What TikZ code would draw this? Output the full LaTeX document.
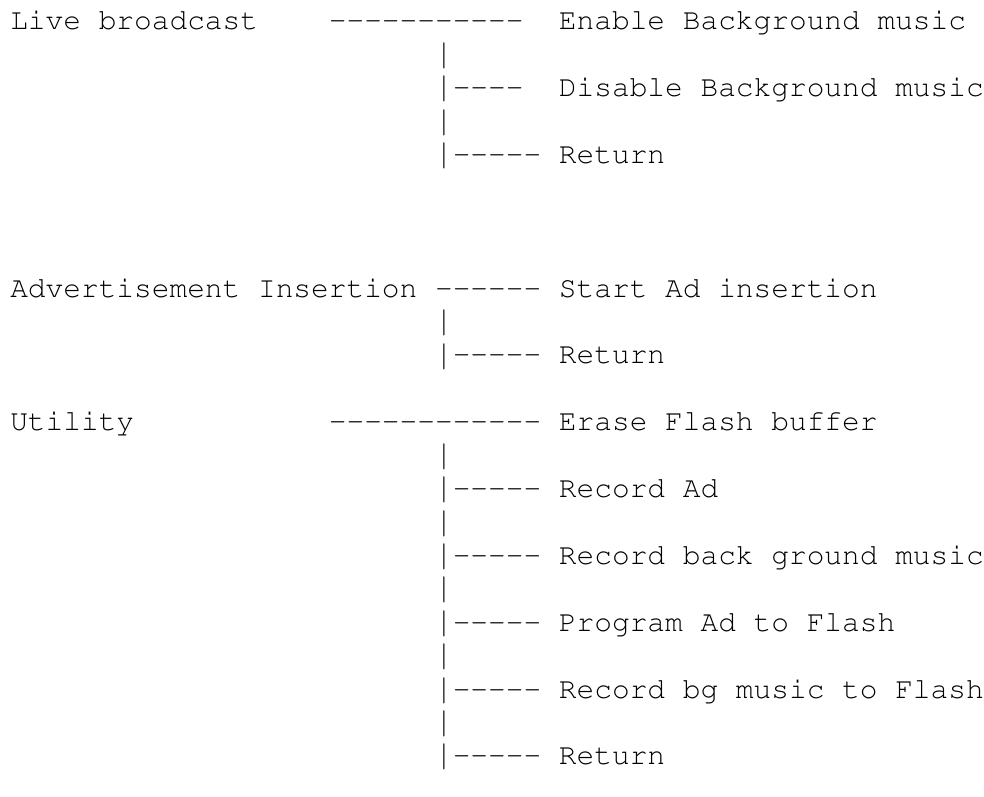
\documentclass[tikz,border=0pt]{standalone}
\usepackage[T1]{fontenc}
\usepackage{courier}
\usepackage{graphicx}
\newcommand{\vbar}{\raisebox{-0.04em}{\scalebox{1}[1.22]{|}}}

\begin{document}
\begin{tikzpicture}[x=13.275pt, y=-25.05pt,
  every node/.style = {anchor=base west, inner sep=0pt,
    font=\ttfamily\fontsize{22.125pt}{25pt}\selectfont}]
  \useasboundingbox (-0.565,-0.898) rectangle (55.028,22.964);
  % Live broadcast
  \node (live) at (0,0) {Live broadcast};
  \node (livedash) at (18,0) {-{}-{}-{}-{}-{}-{}-{}-{}-{}-{}-};
  \node (enablebg) at (31,0) {Enable Background music};
  \node (livebar1) at (24,1) {\vbar};
  \node (livebar2) at (24,2) {\vbar-{}-{}-{}-};
  \node (disablebg) at (31,2) {Disable Background music};
  \node (livebar3) at (24,3) {\vbar};
  \node (livebar4) at (24,4) {\vbar-{}-{}-{}-{}-};
  \node (livereturn) at (31,4) {Return};
  % Advertisement Insertion
  \node (advert) at (0,8) {Advertisement Insertion};
  \node (advertdash) at (24,8) {-{}-{}-{}-{}-{}-};
  \node (startad) at (31,8) {Start Ad insertion};
  \node (advertbar1) at (24,9) {\vbar};
  \node (advertbar2) at (24,10) {\vbar-{}-{}-{}-{}-};
  \node (advertreturn) at (31,10) {Return};
  % Utility
  \node (utility) at (0,12) {Utility};
  \node (utilitydash) at (18,12) {-{}-{}-{}-{}-{}-{}-{}-{}-{}-{}-{}-};
  \node (eraseflash) at (31,12) {Erase Flash buffer};
  \node (utilitybar1) at (24,13) {\vbar};
  \node (utilitybar2) at (24,14) {\vbar-{}-{}-{}-{}-};
  \node (recordad) at (31,14) {Record Ad};
  \node (utilitybar3) at (24,15) {\vbar};
  \node (utilitybar4) at (24,16) {\vbar-{}-{}-{}-{}-};
  \node (recordbg) at (31,16) {Record back ground music};
  \node (utilitybar5) at (24,17) {\vbar};
  \node (utilitybar6) at (24,18) {\vbar-{}-{}-{}-{}-};
  \node (programad) at (31,18) {Program Ad to Flash};
  \node (utilitybar7) at (24,19) {\vbar};
  \node (utilitybar8) at (24,20) {\vbar-{}-{}-{}-{}-};
  \node (programbg) at (31,20) {Record bg music to Flash};
  \node (utilitybar9) at (24,21) {\vbar};
  \node (utilitybar10) at (24,22) {\vbar-{}-{}-{}-{}-};
  \node (utilityreturn) at (31,22) {Return};
\end{tikzpicture}
\end{document}
